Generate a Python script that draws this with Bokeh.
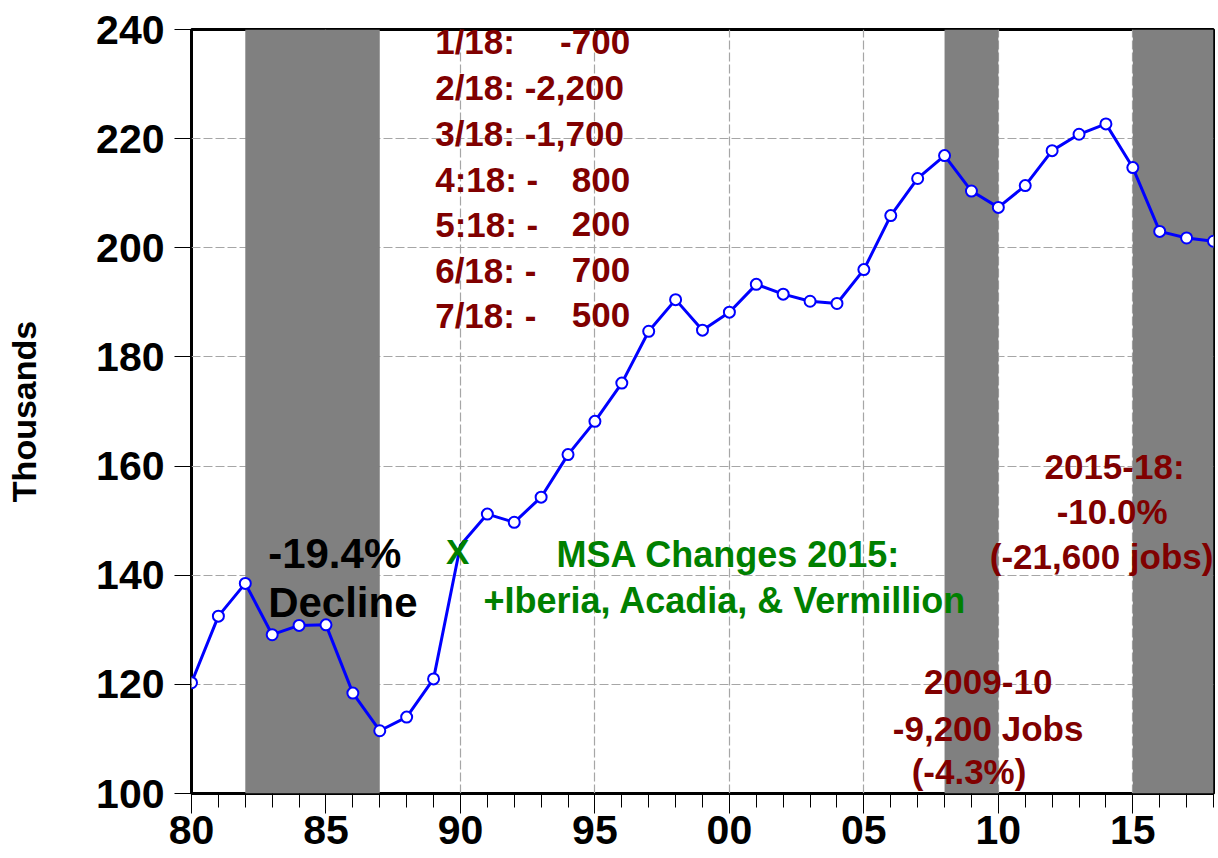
from bokeh.plotting import figure
from bokeh.models import Range1d, FixedTicker
from bokeh.core.properties import value
from bokeh.embed import file_html
from bokeh.resources import INLINE

# ---- data ----
years = list(range(1980, 2019))
jobs = [120.3, 132.5, 138.5, 129.1, 130.8, 130.9, 118.4, 111.5, 114.0, 121.0,
        145.5, 151.2, 149.7, 154.3, 162.1, 168.2, 175.2, 184.7, 190.5, 184.9,
        188.2, 193.3, 191.5, 190.2, 189.8, 196.0, 205.9, 212.7, 216.9, 210.4,
        207.4, 211.4, 217.8, 220.8, 222.7, 214.7, 203.0, 201.8, 201.2]
rec_start = [1982, 2008, 2015]
rec_end = [1987, 2010, 2018]
x_major = [1980, 1985, 1990, 1995, 2000, 2005, 2010, 2015]
x_labels = ["80", "85", "90", "95", "00", "05", "10", "15"]
y_major = [100, 120, 140, 160, 180, 200, 220, 240]

monthly_left = ["1/18:", "2/18: -2,200", "3/18: -1,700", "4:18: -", "5:18: -", "6/18: -", "7/18: -"]
monthly_right = ["-700", "", "", "800", "200", "700", "500"]

FONT = value("Liberation Sans")
RED = "#800000"
GREEN = "#008000"
DY = 2.2  # baseline correction

p = figure(width=1218, height=858, output_backend="svg", toolbar_location=None,
           x_range=Range1d(1980, 2018), y_range=Range1d(100, 240),
           min_border_left=191, min_border_right=5, min_border_top=29, min_border_bottom=65)

p.outline_line_color = "black"
p.outline_line_width = 3
p.background_fill_color = "white"
p.border_fill_color = "white"

# axes
p.xaxis.ticker = FixedTicker(ticks=x_major, minor_ticks=years)
p.xaxis.major_label_overrides = {k: v for k, v in zip(x_major, x_labels)}
p.yaxis.ticker = FixedTicker(ticks=y_major, minor_ticks=[])
for ax in (p.xaxis[0], p.yaxis[0]):
    ax.axis_line_color = None
    ax.major_tick_line_color = "black"
    ax.major_tick_line_width = 1
    ax.major_tick_in = 0
    ax.major_label_text_font = "Liberation Sans"
    ax.major_label_text_font_style = "bold"
    ax.major_label_text_font_size = "41px"
    ax.major_label_text_color = "black"
p.xaxis.major_tick_out = 20
p.xaxis.minor_tick_out = 14
p.xaxis.minor_tick_in = 0
p.xaxis.minor_tick_line_color = "black"
p.xaxis.minor_tick_line_width = 1
p.xaxis.major_label_standoff = 2
p.yaxis.major_tick_out = 17
p.yaxis.minor_tick_line_color = None
p.yaxis.major_label_standoff = 10
p.yaxis.axis_label = "Thousands"
p.yaxis.axis_label_text_font = "Liberation Sans"
p.yaxis.axis_label_text_font_style = "bold"
p.yaxis.axis_label_text_font_size = "34px"
p.yaxis.axis_label_text_color = "black"
p.yaxis.axis_label_standoff = 50

# grid
p.xgrid.ticker = FixedTicker(ticks=x_major)
p.ygrid.ticker = FixedTicker(ticks=y_major)
for g in (p.xgrid[0], p.ygrid[0]):
    g.grid_line_color = "#a6a6a6"
    g.grid_line_width = 1.2
    g.grid_line_dash = "9 3"

# recession shading
p.quad(left=rec_start, right=rec_end, bottom=[100] * 3, top=[240] * 3,
       fill_color="#808080", line_color=None)

# series
p.line(years, jobs, line_color="#0000FF", line_width=3)
mx = [y for y in years if y != 1990]
my = [v for y, v in zip(years, jobs) if y != 1990]
p.scatter(mx, my, size=11, fill_color="white", line_color="#0000FF", line_width=2)

# annotations
def txt(x, y, s, color, size, align="left"):
    p.text(x=[x], y=[y + DY], text=[s], text_color=color, text_font=FONT,
           text_font_style="bold", text_font_size=size, text_align=align,
           text_baseline="alphabetic")

base_y = [235.6, 227.2, 218.7, 210.3, 202.1, 193.7, 185.4]
for s, r, yy in zip(monthly_left, monthly_right, base_y):
    txt(1989.06, yy, s, RED, "35px", "left")
    if r:
        txt(1996.31, yy, r, RED, "35px", "right")

txt(1982.85, 141.8, "-19.4%", "black", "42px")
txt(1982.85, 132.8, "Decline", "black", "42px")
txt(1989.9, 142.2, "X", GREEN, "35px", "center")
txt(1999.97, 141.6, "MSA Changes 2015:", GREEN, "36px", "center")
txt(1999.84, 133.2, "+Iberia, Acadia, & Vermillion", GREEN, "36px", "center")
txt(2009.62, 118.2, "2009-10", RED, "35px", "center")
txt(2009.62, 109.8, "-9,200 Jobs", RED, "35px", "center")
txt(2008.91, 101.9, "(-4.3%)", RED, "35px", "center")
txt(2014.32, 157.7, "2015-18:", RED, "35px", "center")
txt(2014.23, 149.5, "-10.0%", RED, "35px", "center")
txt(2013.84, 141.3, "(-21,600 jobs)", RED, "35px", "center")

open("out.html", "w").write(file_html(p, INLINE))
